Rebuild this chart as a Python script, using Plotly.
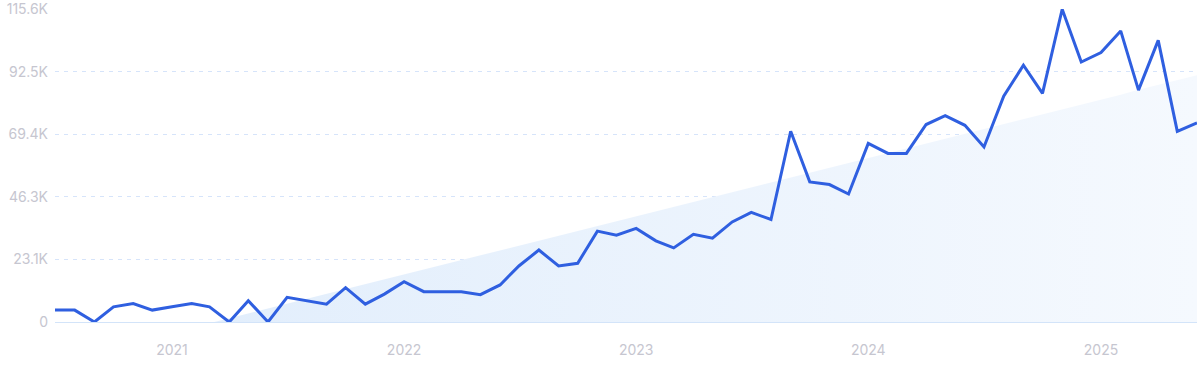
import numpy as np
import pandas as pd
import plotly.graph_objects as go

# Monthly values, Jul 2020 .. Jun 2025
months = pd.date_range("2020-07-01", periods=60, freq="MS").strftime("%Y-%m-%d").tolist()
values = [
    4400, 4400, 0, 5600, 6800, 4400, 5600, 6800, 5600, 0, 7900, 0,
    9100, 7800, 6600, 12700, 6600, 10300, 14900, 11200, 11200, 11200, 10100, 13700,
    20800, 26600, 20700, 21700, 33600, 32100, 34600, 30000, 27400, 32400, 31000, 37000,
    40500, 37900, 70500, 51800, 50800, 47300, 66000, 62300, 62300, 73000, 76300, 72700,
    64700, 83500, 94900, 84500, 115600, 96100, 99600, 107600, 85700, 104100, 70500, 73600,
]
# Trend line (linear) start/end values at first and last month
trend_ends = [-14800, 91200]

tick_vals = [0, 23130, 46260, 69390, 92520, 115650]
tick_text = ["0", "23.1K", "46.3K", "69.4K", "92.5K", "115.6K"]
year_ticks = ["2021-01-01", "2022-01-01", "2023-01-01", "2024-01-01", "2025-01-01"]
year_labels = ["2021", "2022", "2023", "2024", "2025"]

n = len(values)
trend = np.interp(np.arange(n), [0, n - 1], trend_ends)
t0 = -trend_ends[0] / (trend_ends[1] - trend_ends[0]) * (n - 1)
d0 = pd.Timestamp(months[0])
d_last = pd.Timestamp(months[-1])
start_date = d0 + (d_last - d0) * (t0 / (n - 1))
poly_x = [start_date.strftime("%Y-%m-%d %H:%M")] + [m for m, t in zip(months, trend) if t > 0]
poly_y = [0] + [t for t in trend if t > 0]
poly_x = poly_x + [months[-1], poly_x[0]]
poly_y = poly_y + [0, 0]

fig = go.Figure()
fig.add_trace(go.Scatter(
    x=poly_x, y=poly_y, mode="lines", line=dict(width=0, color="rgba(0,0,0,0)"),
    fill="toself",
    fillgradient=dict(type="horizontal",
                      colorscale=[[0, "rgba(226,238,252,1)"], [1, "rgba(245,249,254,1)"]]),
    hoverinfo="skip", showlegend=False,
))
fig.add_trace(go.Scatter(
    x=months, y=values, mode="lines",
    line=dict(color="#2f5fe0", width=3), showlegend=False,
))

fig.update_layout(
    width=1200, height=371,
    margin=dict(l=55, r=3, t=9, b=49),
    paper_bgcolor="white", plot_bgcolor="white",
    font=dict(family="Inter, Open Sans, sans-serif", color="#c6c6d0", size=14),
)
fig.update_xaxes(
    type="date", range=[months[0], months[-1]],
    tickvals=year_ticks, ticktext=year_labels,
    showgrid=False, zeroline=False,
    showline=True, linecolor="#d3e4f9", linewidth=1,
    ticks="", ticklabelstandoff=15, automargin=False,
)
fig.update_yaxes(
    range=[0, 115700], tickvals=tick_vals, ticktext=tick_text,
    showgrid=True, gridcolor="#d6e4fa", griddash="4px,5px", gridwidth=1,
    zeroline=False, showline=False, ticks="", ticklabelstandoff=6,
    automargin=False,
)
fig.write_html("out.html", config={"displayModeBar": False},
               post_script="document.body.style.margin='0';")
